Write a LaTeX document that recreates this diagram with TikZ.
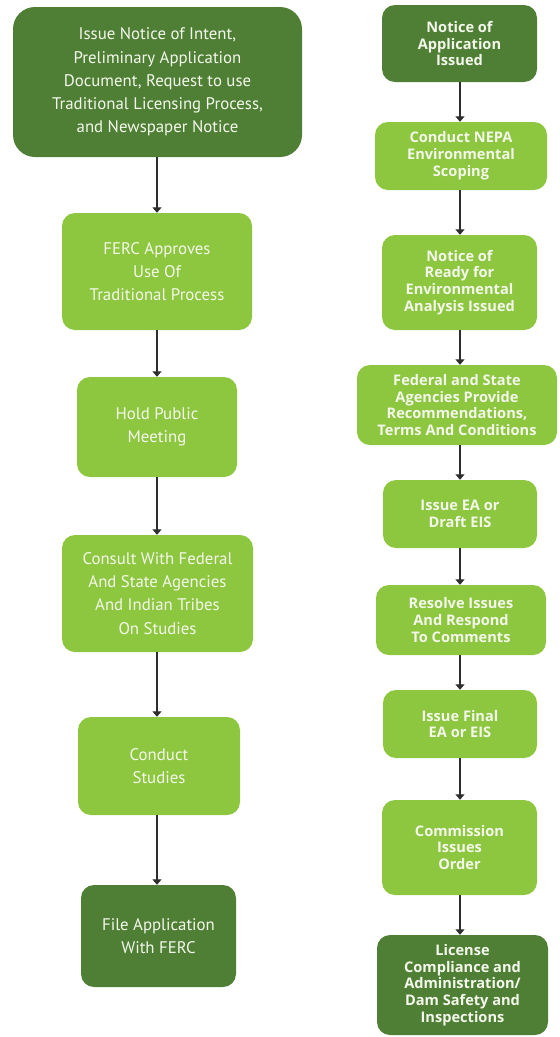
\documentclass[tikz,border=0pt]{standalone}
\usepackage{fontspec}
\setmainfont{PT Sans}
\newfontfamily\rfont{Open Sans}
\usetikzlibrary{arrows.meta}
\definecolor{darkg}{HTML}{4F7F35}
\definecolor{lightg}{HTML}{8DC63F}
\definecolor{txt}{HTML}{F4F8EC}
\definecolor{arr}{HTML}{2E2E2E}
\tikzset{
  box/.style={rounded corners=13pt, inner sep=0pt, align=center, text=txt},
  lbox/.style={box, fill=lightg},
  dbox/.style={box, fill=darkg},
  ltext/.style={font=\fontsize{16.8}{23.2}\selectfont},
  rtext/.style={font=\rfont\bfseries\fontsize{14.6}{16.8}\selectfont},
  flow/.style={draw=arr, line width=1.2pt, -{Triangle[width=9pt,length=5.5pt]}}
}
\begin{document}
\begin{tikzpicture}[x=1pt,y=-1pt]
\useasboundingbox (0,0) rectangle (560,1037);
% left column
\node[dbox, ltext, rounded corners=22pt, minimum width=289pt, minimum height=150pt] (L1) at (157.5,82)
  {Issue Notice of Intent,\\Preliminary Application\\Document, Request to use\\Traditional Licensing Process,\\and Newspaper Notice};
\node[lbox, ltext, minimum width=190pt, minimum height=117pt] (L2) at (157,271.5)
  {FERC Approves\\Use Of\\Traditional Process};
\node[lbox, ltext, minimum width=160pt, minimum height=100pt] (L3) at (157,427)
  {Hold Public\\Meeting};
\node[lbox, ltext, minimum width=191pt, minimum height=117pt] (L4) at (157.5,593.5)
  {Consult With Federal\\And State Agencies\\And Indian Tribes\\On Studies};
\node[lbox, ltext, minimum width=162pt, minimum height=98pt] (L5) at (159,766)
  {Conduct\\Studies};
\node[dbox, ltext, minimum width=155pt, minimum height=102pt] (L6) at (158.5,936)
  {File Application\\With FERC};
% right column
\node[dbox, rtext, minimum width=155pt, minimum height=77pt] (R1) at (459.5,43.5)
  {Notice of\\Application\\Issued};
\node[lbox, rtext, minimum width=172pt, minimum height=68pt] (R2) at (461,156)
  {Conduct NEPA\\Environmental\\Scoping};
\node[lbox, rtext, minimum width=155pt, minimum height=95pt] (R3) at (459.5,282.5)
  {Notice of\\Ready for\\Environmental\\Analysis Issued};
\node[lbox, rtext, minimum width=200pt, minimum height=80pt] (R4) at (457,405)
  {Federal and State\\Agencies Provide\\Recommendations,\\Terms And Conditions};
\node[lbox, rtext, minimum width=154pt, minimum height=68pt] (R5) at (460,514)
  {Issue EA or\\Draft EIS};
\node[lbox, rtext, minimum width=170pt, minimum height=70pt] (R6) at (461,620)
  {Resolve Issues\\And Respond\\To Comments};
\node[lbox, rtext, minimum width=154pt, minimum height=68pt] (R7) at (460,724)
  {Issue Final\\EA or EIS};
\node[lbox, rtext, minimum width=155pt, minimum height=95pt] (R8) at (459.5,847.5)
  {Commission\\Issues\\Order};
\node[dbox, rtext, minimum width=171pt, minimum height=100pt] (R9) at (462.5,985)
  {License\\Compliance and\\Administration/\\Dam Safety and\\Inspections};
% connectors
\foreach \a/\b in {L1/L2,L2/L3,L3/L4,L4/L5,L5/L6}
  \draw[flow] (\a.south -| 157,0) -- (\b.north -| 157,0);
\foreach \a/\b in {R1/R2,R2/R3,R3/R4,R4/R5,R5/R6,R6/R7,R7/R8,R8/R9}
  \draw[flow] (\a.south -| 460,0) -- (\b.north -| 460,0);
\end{tikzpicture}
\end{document}
